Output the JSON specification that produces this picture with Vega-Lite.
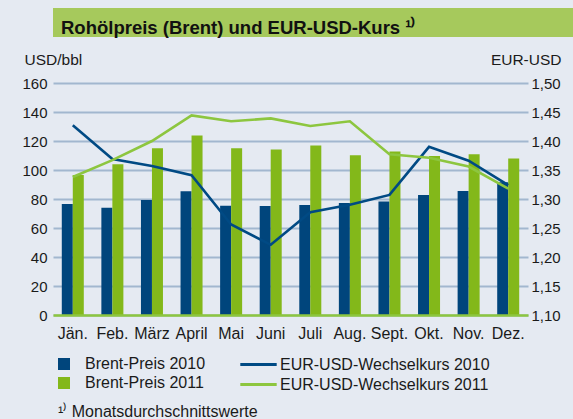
{
  "$schema": "https://vega.github.io/schema/vega-lite/v6.json",
  "background": "#e5eaf2",
  "padding": {"left": 12, "top": 8, "right": 0, "bottom": 0},
  "spacing": 15,
  "config": {
    "font": "Liberation Sans",
    "view": {"stroke": null},
    "axis": {"labelColor": "#1a1a1a", "titleColor": "#1a1a1a", "labelFont": "Liberation Sans", "titleFont": "Liberation Sans"},
    "legend": {"labelColor": "#1a1a1a", "labelFont": "Liberation Sans"},
    "title": {"font": "Liberation Sans"}
  },
  "datasets": {
    "brent": [
      {"monat": "Jän.", "serie": "Brent-Preis 2010", "wert": 76.5},
      {"monat": "Feb.", "serie": "Brent-Preis 2010", "wert": 74.0},
      {"monat": "März", "serie": "Brent-Preis 2010", "wert": 79.3},
      {"monat": "April", "serie": "Brent-Preis 2010", "wert": 85.3},
      {"monat": "Mai", "serie": "Brent-Preis 2010", "wert": 75.4},
      {"monat": "Juni", "serie": "Brent-Preis 2010", "wert": 75.2},
      {"monat": "Juli", "serie": "Brent-Preis 2010", "wert": 75.9},
      {"monat": "Aug.", "serie": "Brent-Preis 2010", "wert": 77.2},
      {"monat": "Sept.", "serie": "Brent-Preis 2010", "wert": 78.2},
      {"monat": "Okt.", "serie": "Brent-Preis 2010", "wert": 82.8},
      {"monat": "Nov.", "serie": "Brent-Preis 2010", "wert": 85.5},
      {"monat": "Dez.", "serie": "Brent-Preis 2010", "wert": 91.5},
      {"monat": "Jän.", "serie": "Brent-Preis 2011", "wert": 96.6},
      {"monat": "Feb.", "serie": "Brent-Preis 2011", "wert": 104.0},
      {"monat": "März", "serie": "Brent-Preis 2011", "wert": 115.0},
      {"monat": "April", "serie": "Brent-Preis 2011", "wert": 123.8},
      {"monat": "Mai", "serie": "Brent-Preis 2011", "wert": 115.0},
      {"monat": "Juni", "serie": "Brent-Preis 2011", "wert": 114.2},
      {"monat": "Juli", "serie": "Brent-Preis 2011", "wert": 116.9},
      {"monat": "Aug.", "serie": "Brent-Preis 2011", "wert": 110.2},
      {"monat": "Sept.", "serie": "Brent-Preis 2011", "wert": 112.8},
      {"monat": "Okt.", "serie": "Brent-Preis 2011", "wert": 109.6},
      {"monat": "Nov.", "serie": "Brent-Preis 2011", "wert": 110.8},
      {"monat": "Dez.", "serie": "Brent-Preis 2011", "wert": 107.9}
    ],
    "kurs": [
      {"monat": "Jän.", "serie": "EUR-USD-Wechselkurs 2010", "wert": 1.427},
      {"monat": "Feb.", "serie": "EUR-USD-Wechselkurs 2010", "wert": 1.369},
      {"monat": "März", "serie": "EUR-USD-Wechselkurs 2010", "wert": 1.357},
      {"monat": "April", "serie": "EUR-USD-Wechselkurs 2010", "wert": 1.341},
      {"monat": "Mai", "serie": "EUR-USD-Wechselkurs 2010", "wert": 1.256},
      {"monat": "Juni", "serie": "EUR-USD-Wechselkurs 2010", "wert": 1.221},
      {"monat": "Juli", "serie": "EUR-USD-Wechselkurs 2010", "wert": 1.277},
      {"monat": "Aug.", "serie": "EUR-USD-Wechselkurs 2010", "wert": 1.290},
      {"monat": "Sept.", "serie": "EUR-USD-Wechselkurs 2010", "wert": 1.307},
      {"monat": "Okt.", "serie": "EUR-USD-Wechselkurs 2010", "wert": 1.390},
      {"monat": "Nov.", "serie": "EUR-USD-Wechselkurs 2010", "wert": 1.366},
      {"monat": "Dez.", "serie": "EUR-USD-Wechselkurs 2010", "wert": 1.324},
      {"monat": "Jän.", "serie": "EUR-USD-Wechselkurs 2011", "wert": 1.338},
      {"monat": "Feb.", "serie": "EUR-USD-Wechselkurs 2011", "wert": 1.367},
      {"monat": "März", "serie": "EUR-USD-Wechselkurs 2011", "wert": 1.400},
      {"monat": "April", "serie": "EUR-USD-Wechselkurs 2011", "wert": 1.444},
      {"monat": "Mai", "serie": "EUR-USD-Wechselkurs 2011", "wert": 1.434},
      {"monat": "Juni", "serie": "EUR-USD-Wechselkurs 2011", "wert": 1.439},
      {"monat": "Juli", "serie": "EUR-USD-Wechselkurs 2011", "wert": 1.426},
      {"monat": "Aug.", "serie": "EUR-USD-Wechselkurs 2011", "wert": 1.434},
      {"monat": "Sept.", "serie": "EUR-USD-Wechselkurs 2011", "wert": 1.377},
      {"monat": "Okt.", "serie": "EUR-USD-Wechselkurs 2011", "wert": 1.371},
      {"monat": "Nov.", "serie": "EUR-USD-Wechselkurs 2011", "wert": 1.356},
      {"monat": "Dez.", "serie": "EUR-USD-Wechselkurs 2011", "wert": 1.318}
    ]
  },
  "vconcat": [
    {
      "width": 561,
      "height": 29,
      "view": {"fill": "#a6c95c", "stroke": null},
      "data": {"values": [{"t": ""}]},
      "mark": {"type": "text"},
      "encoding": {"text": {"field": "t"}},
      "title": {
        "text": "Rohölpreis (Brent) und EUR-USD-Kurs ¹⁾",
        "orient": "top",
        "anchor": "start",
        "frame": "group",
        "offset": -44,
        "dx": 8,
        "fontSize": 18.5,
        "fontWeight": "bold",
        "color": "#111111",
        "baseline": "alphabetic"
      }
    },
    {
      "width": 475,
      "height": 232,
      "title": {
        "text": "¹⁾ Monatsdurchschnittswerte",
        "orient": "bottom",
        "anchor": "start",
        "frame": "group",
        "offset": 76,
        "dx": 5,
        "fontSize": 16,
        "fontWeight": "normal",
        "color": "#1a1a1a",
        "baseline": "alphabetic"
      },
      "resolve": {"scale": {"y": "independent"}},
      "layer": [
        {
          "data": {"name": "brent"},
          "mark": {"type": "bar"},
          "encoding": {
            "x": {
              "field": "monat",
              "type": "nominal",
              "sort": ["Jän.", "Feb.", "März", "April", "Mai", "Juni", "Juli", "Aug.", "Sept.", "Okt.", "Nov.", "Dez."],
              "scale": {"paddingInner": 0.444, "paddingOuter": 0.222},
              "axis": {"title": null, "labelAngle": 0, "labelFontSize": 16, "labelPadding": 10, "ticks": false, "domainColor": "#8dc63f", "domainWidth": 2.5, "zindex": 1}
            },
            "xOffset": {
              "field": "serie",
              "type": "nominal",
              "scale": {"paddingInner": 0, "paddingOuter": 0}
            },
            "y": {
              "field": "wert",
              "type": "quantitative",
              "scale": {"domain": [0, 160], "nice": false},
              "axis": {
                "orient": "left",
                "values": [0, 20, 40, 60, 80, 100, 120, 140, 160],
                "grid": true,
                "gridColor": "#a2b7cf",
                "gridWidth": 2,
                "gridOpacity": 1,
                "domain": false,
                "ticks": false,
                "labelFontSize": 15,
                "labelPadding": 6,
                "title": "\u2800USD/bbl",
                "titleAngle": 0,
                "titleAlign": "left",
                "titleBaseline": "middle",
                "titleX": -41,
                "titleY": -24,
                "titleFontSize": 15.5,
                "titleFontWeight": "normal"
              }
            },
            "fill": {
              "field": "serie",
              "type": "nominal",
              "scale": {"domain": ["Brent-Preis 2010", "Brent-Preis 2011"], "range": ["#00457c", "#83b81a"]},
              "legend": {
                "orient": "none",
                "legendX": 3,
                "legendY": 348,
                "title": null,
                "padding": 0,
                "symbolType": "square",
                "symbolSize": 144,
                "symbolStrokeWidth": 0,
                "labelFontSize": 16,
                "labelOffset": 13,
                "labelLimit": 300,
                "rowPadding": 3
              }
            }
          }
        },
        {
          "data": {"name": "kurs"},
          "mark": {"type": "line", "strokeWidth": 2.6},
          "encoding": {
            "x": {
              "field": "monat",
              "type": "nominal",
              "bandPosition": 0.5,
              "sort": ["Jän.", "Feb.", "März", "April", "Mai", "Juni", "Juli", "Aug.", "Sept.", "Okt.", "Nov.", "Dez."],
              "axis": {"title": null, "labelAngle": 0, "labelFontSize": 16, "labelPadding": 10, "ticks": false, "domainColor": "#8dc63f", "domainWidth": 2.5, "zindex": 1}
            },
            "y": {
              "field": "wert",
              "type": "quantitative",
              "scale": {"domain": [1.1, 1.5], "nice": false, "zero": false},
              "axis": {
                "orient": "right",
                "values": [1.1, 1.15, 1.2, 1.25, 1.3, 1.35, 1.4, 1.45, 1.5],
                "labelExpr": "replace(format(datum.value, '.2f'), '.', ',')",
                "grid": false,
                "domain": false,
                "ticks": false,
                "labelFontSize": 15,
                "labelPadding": 3,
                "title": "EUR-USD",
                "titleAngle": 0,
                "titleAlign": "right",
                "titleBaseline": "middle",
                "titleX": 33,
                "titleY": -24,
                "titleFontSize": 15.5,
                "titleFontWeight": "normal"
              }
            },
            "stroke": {
              "field": "serie",
              "type": "nominal",
              "scale": {"domain": ["EUR-USD-Wechselkurs 2010", "EUR-USD-Wechselkurs 2011"], "range": ["#004a84", "#8dc63f"]},
              "legend": {
                "orient": "none",
                "legendX": 197,
                "legendY": 348,
                "title": null,
                "padding": 0,
                "symbolType": "M-2.6,0L2.6,0",
                "symbolSize": 196,
                "symbolStrokeWidth": 3,
                "labelFontSize": 16,
                "labelOffset": 13,
                "labelLimit": 300,
                "rowPadding": 3
              }
            }
          }
        }
      ]
    }
  ]
}
